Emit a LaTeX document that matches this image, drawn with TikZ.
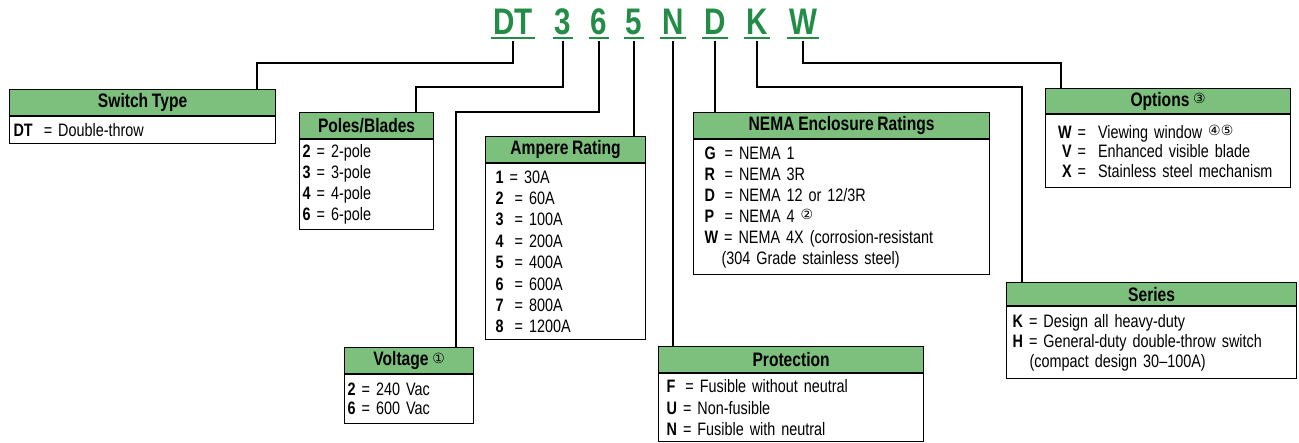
\documentclass[tikz,border=0pt]{standalone}
\usepackage{fontspec}
\setmainfont{Liberation Sans}[FakeStretch=0.8,WordSpace=0.85]
\newfontfamily\codefont{Liberation Sans}[FakeStretch=0.8]
\newfontfamily\symfont{DejaVu Sans}
\usetikzlibrary{calc}
\definecolor{hdrgreen}{RGB}{125,192,125}
\definecolor{codegreen}{RGB}{35,140,70}
\newcommand{\circnum}[1]{\raisebox{2.5pt}{\symfont\mdseries\fontsize{14}{14}\selectfont #1}}
\begin{document}
\begin{tikzpicture}[x=1pt,y=-1pt,
  hdr/.style={draw=black, line width=1.2pt, fill=hdrgreen, anchor=north west, inner sep=0pt,
    font=\bfseries\fontsize{19.5}{19.5}\selectfont},
  bodyb/.style={draw=black, line width=1.2pt, anchor=north west, inner ysep=0pt, align=left,
    font=\fontsize{18}{20}\selectfont},
  conn/.style={line width=2.4pt, line join=miter},
  codetext/.style={font=\codefont\bfseries\fontsize{37}{37}\selectfont, text=codegreen,
    inner xsep=2pt, inner ysep=3pt, text depth=0pt, anchor=base},
  uline/.style={draw=codegreen, line width=2pt}
]
\useasboundingbox (0,0) rectangle (1299,443);

% ---- code letters
\node[codetext] (cDT) at (513,35) {DT};
\node[codetext] (c3) at (563,35) {3};
\node[codetext] (c6) at (599,35) {6};
\node[codetext] (c5) at (634,35) {5};
\node[codetext] (cN) at (673,35) {N};
\node[codetext] (cD) at (715,35) {D};
\node[codetext] (cK) at (757,35) {K};
\node[codetext] (cW) at (803,35) {W};
\foreach \c in {cDT,c3,c6,c5,cN,cD,cK,cW}{\draw[uline] (\c.south west) -- (\c.south east);}

% ---- Switch Type
\node[hdr, minimum width=266, minimum height=26] (hST) at (9,89) {Switch Type};
\node[bodyb, minimum width=266, minimum height=27, text width=258, inner xsep=4pt] (bST) at (hST.south west)
  {\textbf{DT}\hspace{5pt} = Double-throw};

% ---- Poles/Blades
\node[hdr, minimum width=134, minimum height=26] (hPB) at (299,112) {Poles/Blades};
\node[bodyb, minimum width=134, minimum height=90, text width=128, inner xsep=3pt,
  font=\fontsize{18}{21}\selectfont] (bPB) at (hPB.south west)
  {\textbf{2} = 2-pole\\ \textbf{3} = 3-pole\\ \textbf{4} = 4-pole\\ \textbf{6} = 6-pole};

% ---- Ampere Rating
\node[hdr, minimum width=160, minimum height=26] (hAR) at (485,136) {Ampere Rating};
\node[bodyb, minimum width=160, minimum height=176, text width=140, inner xsep=10pt,
  font=\fontsize{18}{21.4}\selectfont] (bAR) at (hAR.south west)
  {\textbf{1} = 30A\\
   \textbf{2}\hspace{5pt} = 60A\\
   \textbf{3}\hspace{5pt} = 100A\\
   \textbf{4}\hspace{5pt} = 200A\\
   \textbf{5}\hspace{5pt} = 400A\\
   \textbf{6}\hspace{5pt} = 600A\\
   \textbf{7}\hspace{5pt} = 800A\\
   \textbf{8}\hspace{5pt} = 1200A};

% ---- NEMA Enclosure Ratings
\node[hdr, minimum width=296, minimum height=26] (hNE) at (693,112) {NEMA Enclosure Ratings};
\node[bodyb, minimum width=296, minimum height=135, text width=274, inner xsep=11pt,
  font=\fontsize{18}{21}\selectfont] (bNE) at (hNE.south west)
  {\makebox[20pt][l]{\textbf{G}}= NEMA 1\\
   \makebox[20pt][l]{\textbf{R}}= NEMA 3R\\
   \makebox[20pt][l]{\textbf{D}}= NEMA 12 or 12/3R\\
   \makebox[20pt][l]{\textbf{P}}= NEMA 4 \circnum{②}\\
   \textbf{W} = NEMA 4X (corrosion-resistant\\
   \hspace*{17pt}(304 Grade stainless steel)};

% ---- Options
\node[hdr, minimum width=245, minimum height=25] (hOP) at (1045,88) {Options \circnum{③}};
\node[bodyb, minimum width=245, minimum height=73, text width=229, inner xsep=8pt,
  font=\fontsize{18}{19.5}\selectfont] (bOP) at (hOP.south west)
  {\makebox[18pt][r]{\textbf{W}} =\hspace{6pt} Viewing window \circnum{④⑤}\\
   \makebox[18pt][r]{\textbf{V}} =\hspace{6pt} Enhanced visible blade\\
   \makebox[18pt][r]{\textbf{X}} =\hspace{6pt} Stainless steel mechanism};

% ---- Series
\node[hdr, minimum width=290, minimum height=23] (hSE) at (1006,282) {Series};
\node[bodyb, minimum width=290, minimum height=72, text width=278, inner xsep=6pt,
  font=\fontsize{18}{20}\selectfont] (bSE) at (hSE.south west)
  {\textbf{K} = Design all heavy-duty\\
   \textbf{H} = General-duty double-throw switch\\
   \hspace*{17pt}(compact design 30--100A)};

% ---- Voltage
\node[hdr, minimum width=129, minimum height=26] (hVO) at (344,347) {Voltage \circnum{①}};
\node[bodyb, minimum width=129, minimum height=49, text width=123, inner xsep=3pt,
  font=\fontsize{18}{19}\selectfont] (bVO) at (hVO.south west)
  {\textbf{2} = 240 Vac\\ \textbf{6} = 600 Vac};

% ---- Protection
\node[hdr, minimum width=265, minimum height=26] (hPR) at (658,346) {Protection};
\node[bodyb, minimum width=265, minimum height=68, text width=249, inner xsep=8pt,
  font=\fontsize{18}{21.5}\selectfont] (bPR) at (hPR.south west)
  {\textbf{F}\hspace{4pt} = Fusible without neutral\\
   \textbf{U} = Non-fusible\\
   \textbf{N} = Fusible with neutral};

% ---- attach points
\coordinate (aST) at ($(hST.north west)+(248,0)$);
\coordinate (aPB) at ($(hPB.north west)+(117,0)$);
\coordinate (aVO) at ($(hVO.north west)+(112,0)$);
\coordinate (aSE) at ($(hSE.north west)+(16,0)$);
\coordinate (aOP) at ($(hOP.north west)+(16,0)$);

% ---- connectors
\draw[conn, shorten <=3pt] (cDT.south) -- ++(0,25) -| (aST);
\draw[conn, shorten <=3pt] (c3.south) -- ++(0,49) -| (aPB);
\draw[conn, shorten <=3pt] (c6.south) -- ++(0,74) -| (aVO);
\draw[conn, shorten <=3pt] (c5.south) -- (c5.south |- hAR.north);
\draw[conn, shorten <=3pt] (cN.south) -- (cN.south |- hPR.north);
\draw[conn, shorten <=3pt] (cD.south) -- (cD.south |- hNE.north);
\draw[conn, shorten <=3pt] (cK.south) -- ++(0,49) -| (aSE);
\draw[conn, shorten <=3pt] (cW.south) -- ++(0,25) -| (aOP);
\end{tikzpicture}
\end{document}
